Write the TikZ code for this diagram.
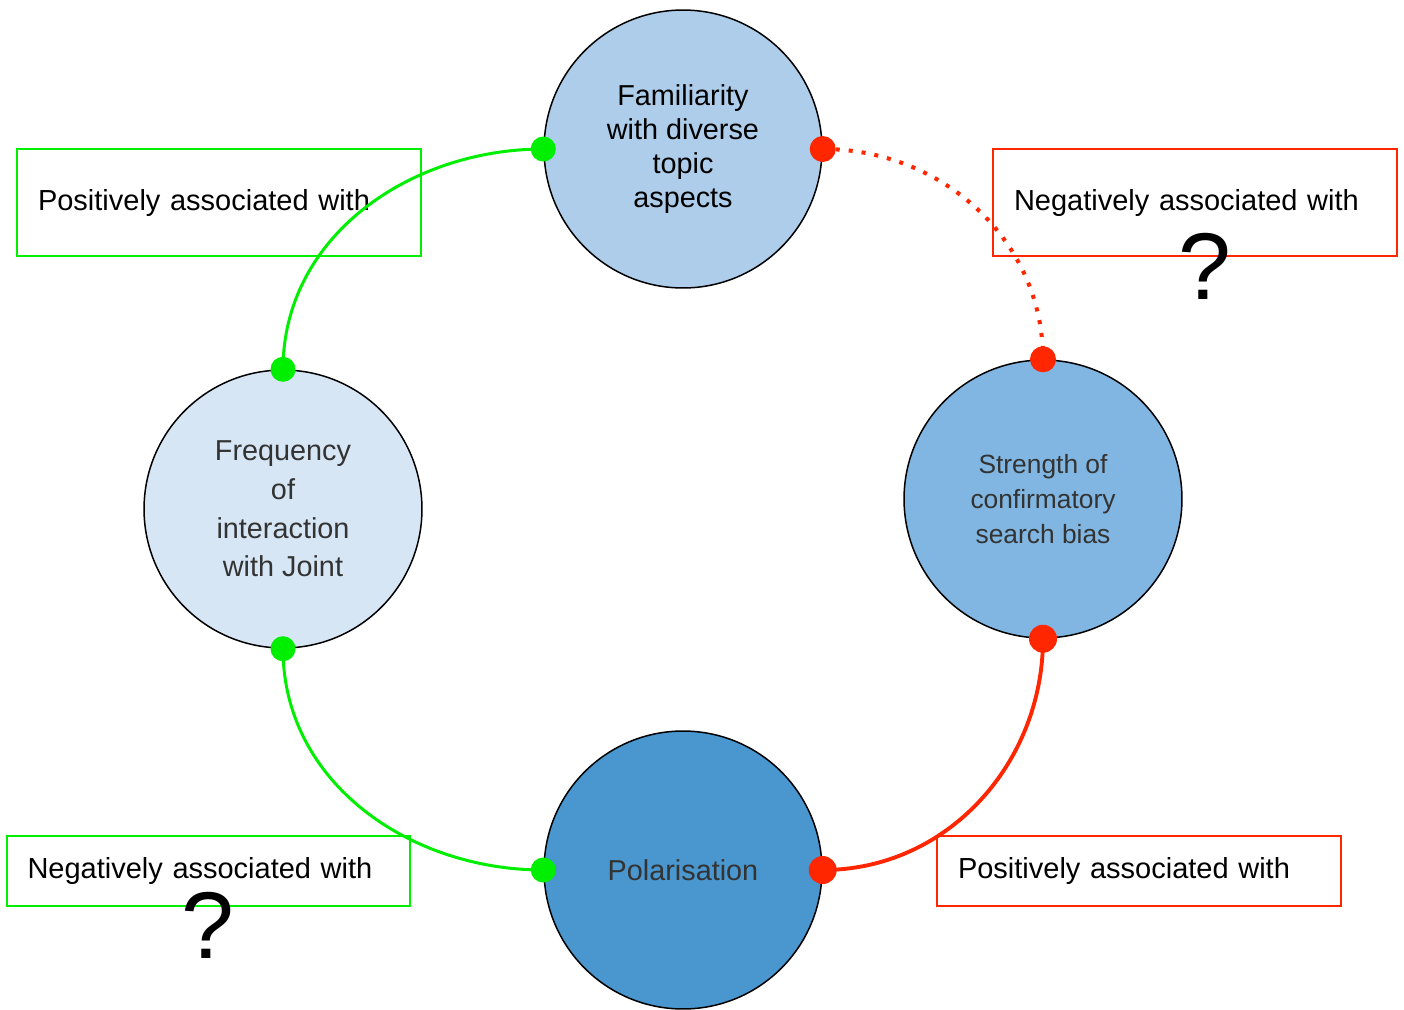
\documentclass[tikz,border=0pt]{standalone}
\usepackage{fontspec}
\setmainfont{Liberation Sans}
\usetikzlibrary{positioning}
\definecolor{famfill}{RGB}{174,205,235}
\definecolor{freqfill}{RGB}{214,230,245}
\definecolor{conffill}{RGB}{128,182,225}
\definecolor{polfill}{RGB}{74,150,206}
\definecolor{assocgreen}{RGB}{0,238,0}
\definecolor{assocred}{RGB}{255,38,0}
\definecolor{softink}{RGB}{51,51,51}

\begin{document}
\begin{tikzpicture}[
  x=0.02cm, y=0.02cm,
  factor/.style={circle, draw=black, line width=0.85pt, minimum size=5.56cm, inner sep=0pt, align=center},
  assocbox/.style={rectangle, line width=1.1pt, minimum width=8.08cm, inner xsep=0.42cm, text width=7.24cm, align=left, font=\fontsize{16.5}{20}\selectfont},
  query/.style={anchor=base, inner sep=0pt, font=\fontsize{54}{60}\selectfont},
  poslink/.style={draw=assocgreen, line width=1.7pt},
  neglink/.style={draw=assocred, line width=2.2pt},
  gdot/.style={fill=assocgreen},
  rdot/.style={fill=assocred}
]
\clip (0,0) rectangle (1404,-1009);

\node[factor, fill=famfill, font=\fontsize{16.4}{19.3}\selectfont] (fam) at (683,-149) {Familiarity\\with diverse\\topic\\aspects};
\node[factor, fill=freqfill, text=softink, font=\fontsize{16.4}{22}\selectfont] (freq) at (283,-509) {Frequency\\of\\interaction\\with Joint};
\node[factor, fill=conffill, text=softink, font=\fontsize{15}{20}\selectfont] (conf) at (1043,-499) {Strength of\\confirmatory\\search bias};
\node[factor, fill=polfill, text=softink, font=\fontsize{16.4}{19.3}\selectfont] (pol) at (683,-870) {Polarisation};

\node[assocbox, draw=assocgreen, minimum height=2.14cm] (posfam) at (219,-202.5) {Positively associated with};
\node[assocbox, draw=assocred, minimum height=2.14cm] (negfam) at (1195,-202.5) {Negatively associated with};
\node[assocbox, draw=assocgreen, minimum height=1.4cm] (negfreq) at (208.5,-871) {Negatively associated with};
\node[assocbox, draw=assocred, minimum height=1.4cm] (posconf) at (1139,-871) {Positively associated with};

\node[query] (qfam) at (1205,-299) {?};
\node[query] (qfreq) at (208,-958) {?};

\draw[poslink] (fam.west) to[out=180, in=90] (freq.north);
\draw[poslink] (freq.south) to[out=-90, in=180] (pol.west);
\draw[neglink] (conf.south) to[out=-90, in=0] (pol.east);
\draw[draw=assocred, line width=2.3pt, dash pattern=on 2.3pt off 5.1pt] (fam.east) to[out=0, in=90] (conf.north);

\fill[gdot] (fam.west) circle[radius=0.25cm];
\fill[gdot] (freq.north) circle[radius=0.25cm];
\fill[gdot] (freq.south) circle[radius=0.25cm];
\fill[gdot] (pol.west) circle[radius=0.25cm];
\fill[rdot] (fam.east) circle[radius=0.26cm];
\fill[rdot] (conf.north) circle[radius=0.26cm];
\fill[rdot] (conf.south) circle[radius=0.28cm];
\fill[rdot] (pol.east) circle[radius=0.28cm];
\end{tikzpicture}
\end{document}
